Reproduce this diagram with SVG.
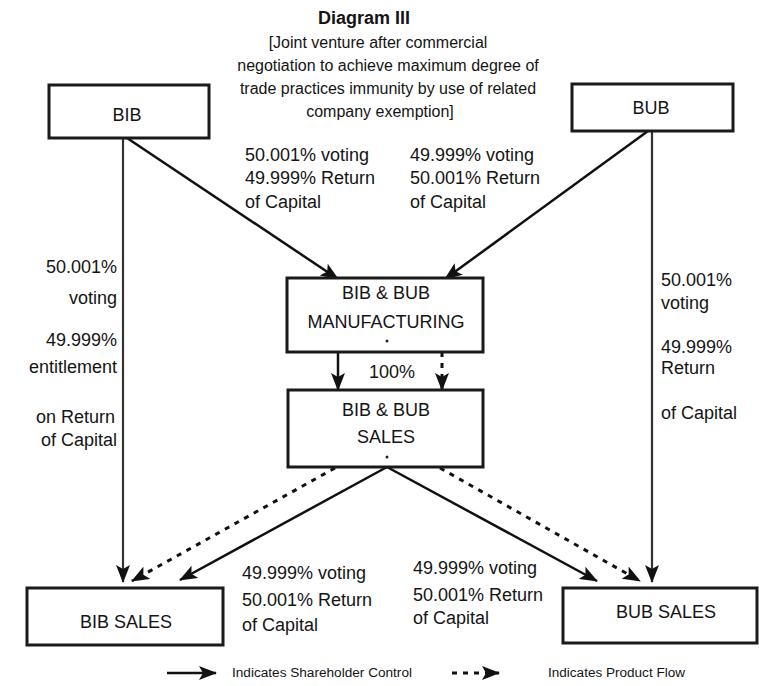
<svg xmlns="http://www.w3.org/2000/svg" width="759" height="686" viewBox="0 0 759 686">
<style>
text{font-family:"Liberation Sans",Arial,sans-serif;fill:#141414}
.t{font-size:16px}
.l{font-size:18px}
.b{font-size:18px}
.g{font-size:12px}
.box{fill:#fff;stroke:#1a1a1a;stroke-width:3}
.s{stroke:#111;stroke-width:2.5;fill:none}
.v{stroke:#333;stroke-width:2.2;fill:none}
.d{stroke:#111;stroke-width:3;fill:none;stroke-dasharray:5 6}
</style>
<defs>
<marker id="ah" markerUnits="userSpaceOnUse" markerWidth="18" markerHeight="14" refX="17" refY="7" orient="auto">
<path d="M0,0 L18,7 L0,14 L4,7 Z" fill="#111"/>
</marker>
</defs>
<g id="title">
<text x="364" y="24" text-anchor="middle" font-weight="bold" style="font-size:18px">Diagram III</text>
<text class="t" x="378" y="48" text-anchor="middle">[Joint venture after commercial</text>
<text class="t" x="388" y="71" text-anchor="middle">negotiation to achieve maximum degree of</text>
<text class="t" x="388" y="94" text-anchor="middle">trade practices immunity by use of related</text>
<text class="t" x="380" y="117" text-anchor="middle">company exemption]</text>
</g>
<g id="connectors">
<line class="v" x1="123" y1="138" x2="123" y2="582" marker-end="url(#ah)"/>
<line class="v" x1="652" y1="131" x2="652" y2="582" marker-end="url(#ah)"/>
<line class="s" x1="127" y1="138" x2="338" y2="279" marker-end="url(#ah)"/>
<line class="s" x1="648" y1="131" x2="445" y2="279" marker-end="url(#ah)"/>
<line class="s" x1="338" y1="352" x2="338" y2="390" marker-end="url(#ah)"/>
<line class="d" x1="442" y1="352" x2="442" y2="390" marker-end="url(#ah)"/>
<line class="s" x1="387" y1="467" x2="180" y2="580" marker-end="url(#ah)"/>
<line class="d" x1="335" y1="468" x2="132" y2="581" marker-end="url(#ah)"/>
<line class="s" x1="387" y1="467" x2="597" y2="581" marker-end="url(#ah)"/>
<line class="d" x1="440" y1="468" x2="640" y2="581" marker-end="url(#ah)"/>
</g>
<g id="BIB">
<rect class="box" x="49" y="85" width="160" height="53"/>
<text class="b" x="127" y="121" text-anchor="middle">BIB</text>
</g>
<g id="BUB">
<rect class="box" x="572" y="84" width="161" height="47"/>
<text class="b" x="651" y="114" text-anchor="middle">BUB</text>
</g>
<g id="manufacturing">
<rect class="box" x="287" y="278" width="196" height="74"/>
<text class="b" x="386" y="299" text-anchor="middle">BIB &amp; BUB</text>
<text class="b" x="386" y="328" text-anchor="middle">MANUFACTURING</text>
<circle cx="387" cy="341" r="1.5" fill="#222"/>
</g>
<g id="sales">
<rect class="box" x="288" y="390" width="195" height="77"/>
<text class="b" x="386" y="416" text-anchor="middle">BIB &amp; BUB</text>
<text class="b" x="386" y="443" text-anchor="middle">SALES</text>
<circle cx="387" cy="457" r="1.5" fill="#222"/>
</g>
<g id="bib-sales">
<rect class="box" x="27" y="588" width="196" height="57"/>
<text class="b" x="126" y="628" text-anchor="middle">BIB SALES</text>
</g>
<g id="bub-sales">
<rect class="box" x="563" y="588" width="194" height="55"/>
<text class="b" x="666" y="618" text-anchor="middle">BUB SALES</text>
</g>
<g id="labels">
<text class="l" x="245" y="161">50.001% voting</text>
<text class="l" x="245" y="184">49.999% Return</text>
<text class="l" x="245" y="208">of Capital</text>
<text class="l" x="410" y="161">49.999% voting</text>
<text class="l" x="410" y="184">50.001% Return</text>
<text class="l" x="410" y="208">of Capital</text>
<text class="l" x="117" y="273" text-anchor="end">50.001%</text>
<text class="l" x="117" y="304" text-anchor="end">voting</text>
<text class="l" x="117" y="346" text-anchor="end">49.999%</text>
<text class="l" x="117" y="373" text-anchor="end">entitlement</text>
<text class="l" x="115" y="423" text-anchor="end">on Return</text>
<text class="l" x="117" y="446" text-anchor="end">of Capital</text>
<text class="l" x="661" y="286">50.001%</text>
<text class="l" x="661" y="309">voting</text>
<text class="l" x="661" y="353">49.999%</text>
<text class="l" x="661" y="374">Return</text>
<text class="l" x="661" y="419">of Capital</text>
<text class="l" x="392" y="378" text-anchor="middle">100%</text>
<text class="l" x="242" y="579">49.999% voting</text>
<text class="l" x="242" y="606">50.001% Return</text>
<text class="l" x="242" y="631">of Capital</text>
<text class="l" x="413" y="574">49.999% voting</text>
<text class="l" x="413" y="601">50.001% Return</text>
<text class="l" x="413" y="624">of Capital</text>
</g>
<g id="legend">
<line class="s" x1="167" y1="673" x2="216" y2="673" marker-end="url(#ah)"/>
<text class="g" x="232" y="677" textLength="180" lengthAdjust="spacingAndGlyphs">Indicates Shareholder Control</text>
<line class="d" x1="452" y1="673" x2="499" y2="673" marker-end="url(#ah)"/>
<text class="g" x="548" y="677" textLength="137" lengthAdjust="spacingAndGlyphs">Indicates Product Flow</text>
</g>
</svg>
